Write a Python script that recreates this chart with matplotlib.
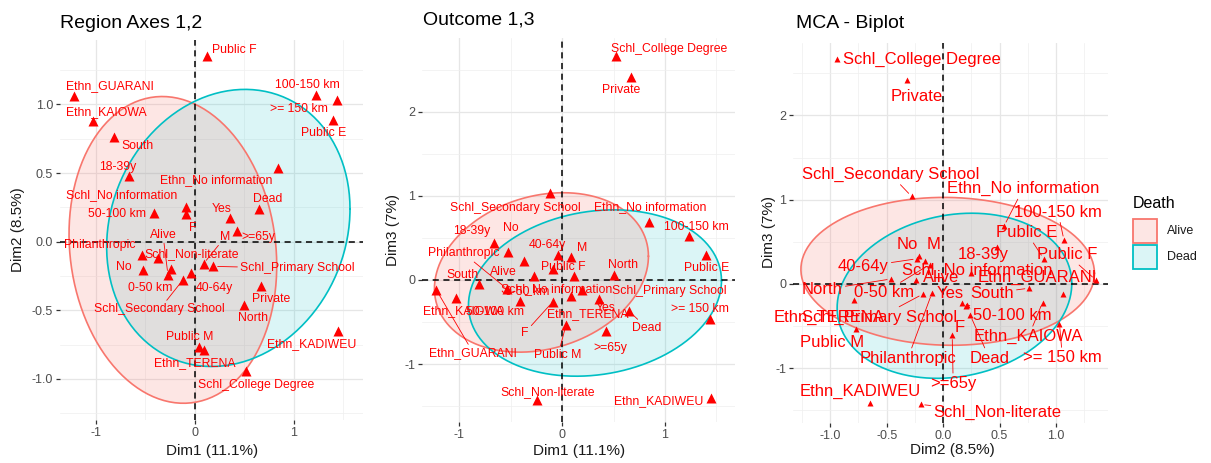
import numpy as np
import matplotlib.pyplot as plt
from matplotlib.colors import to_rgba
from matplotlib.patches import Rectangle

plt.rcParams['font.family'] = ['Liberation Sans', 'DejaVu Sans']
plt.rcParams['axes.unicode_minus'] = False

W, H = 1211, 463
RED = "#FF0000"

# MCA category coordinates
categories = ["Ethn_GUARANI", "Ethn_KAIOWA", "Ethn_KADIWEU", "Ethn_TERENA", "Ethn_No information",
              "Schl_College Degree", "Schl_Secondary School", "Schl_Primary School",
              "Schl_Non-literate", "Schl_No information",
              "Public F", "Public E", "Public M", "Private", "Philanthropic",
              "100-150 km", ">= 150 km", "50-100 km", "0-50 km",
              "South", "North", "18-39y", "40-64y", ">=65y",
              "Alive", "Dead", "Yes", "No", "M", "F"]
dim1 = [-1.22, -1.03, 1.45, 0.09, 0.84,
        0.52, -0.12, 0.19, -0.24, -0.09,
        0.12, 1.40, 0.04, 0.67, -0.53,
        1.23, 1.44, -0.41, -0.37,
        -0.81, 0.50, -0.66, -0.04, 0.43,
        -0.27, 0.65, 0.36, -0.52, 0.09, -0.09]
dim2 = [1.06, 0.88, -0.65, -0.79, 0.54,
        -0.94, -0.28, -0.18, -0.20, 0.25,
        1.35, 0.89, -0.77, -0.32, -0.10,
        1.07, 1.03, 0.21, -0.12,
        0.76, -0.46, 0.48, -0.23, 0.08,
        -0.24, 0.24, 0.17, -0.21, -0.16, 0.20]
dim3 = [-0.12, -0.22, -1.41, -0.19, 0.69,
        2.67, 1.04, -0.12, -1.43, 0.13,
        0.05, 0.30, -0.53, 2.42, -0.11,
        0.52, -0.47, -0.25, 0.23,
        -0.05, 0.06, 0.44, 0.30, -0.61,
        0.05, -0.37, -0.23, 0.33, 0.27, -0.26]

groups = ["Alive", "Dead"]
group_colors = ["#F8766D", "#00BFC4"]
group_alpha = [0.18, 0.14]

# concentration ellipses per Death group: centre x, centre y, var x, var y, cov xy
ell_12 = {"Alive": (-0.22, -0.06, 1.10, 1.25, -0.12), "Dead": (0.34, 0.10, 1.51, 1.02, 0.17)}
ell_13 = {"Alive": (-0.20, 0.09, 1.08, 0.90, 0.20), "Dead": (0.32, -0.155, 1.51, 0.98, 0.18)}
ell_23 = {"Alive": (0.04, 0.15, 1.69, 0.77, -0.03), "Dead": (0.10, -0.14, 1.08, 0.96, 0.15)}

# label placement (pixel offsets from the point) and which labels get a leader line
off_12 = {"Public F": (28, 6), "Ethn_GUARANI": (36, 10), "100-150 km": (-9, 10), ">= 150 km": (-38, -9),
          "Public E": (-10, -13), "Ethn_KAIOWA": (14, 9), "South": (23, -9), "18-39y": (-12, 9),
          "Ethn_No information": (-62, -12), "Schl_No information": (-64, 12), "Dead": (9, 10),
          "50-100 km": (-37, -1), "Yes": (-9, 9), "Alive": (-5, 40), "M": (22, 27), ">=65y": (21, -6),
          "F": (7, -14), "Philanthropic": (-42, 10), "Schl_Non-literate": (21, 15), "No": (-19, 3),
          "0-50 km": (-8, -30), "Schl_Secondary School": (-23, -29), "40-64y": (24, -15),
          "Schl_Primary School": (84, -2), "Private": (10, -13), "North": (9, -13),
          "Ethn_KADIWEU": (-27, -13), "Public M": (-9, 10), "Ethn_TERENA": (-9, -13),
          "Schl_College Degree": (10, -14)}
seg_12 = {"M", "Schl_Secondary School", "Schl_Primary School", "Alive"}

off_13 = {"Schl_College Degree": (54, 7), "Private": (-10, -13), "Schl_Secondary School": (-34, -15),
          "Ethn_No information": (2, 15), "100-150 km": (8, 9), "18-39y": (-22, 12), "No": (2, 24),
          "Philanthropic": (-44, 36), "40-64y": (-11, 10), "M": (11, 9), "Alive": (-31, 4),
          "Public F": (-11, 9), "North": (9, 10), "Public E": (0, -13), "South": (-16, 9),
          "Schl_No information": (4, -20), "0-50 km": (3, -31), "Schl_Primary School": (88, -1),
          "Ethn_KAIOWA": (7, -13), "50-100 km": (-25, -11), "Ethn_TERENA": (16, -18), "Yes": (7, -9),
          ">= 150 km": (-10, 10), "Dead": (18, -17), "F": (-28, -31), "Ethn_GUARANI": (37, -63),
          "Public M": (-8, -30), ">=65y": (4, -17), "Schl_Non-literate": (10, 8),
          "Ethn_KADIWEU": (-53, -3)}
seg_13 = {"Philanthropic", "Dead", "F", "Ethn_GUARANI", "Public M"}

off_23 = {"Schl_College Degree": (85, 0), "Private": (10, -16), "Schl_Secondary School": (-21, 22),
          "Ethn_No information": (19, 37), "100-150 km": (-6, 28), "Public E": (-17, 26),
          "Public F": (-28, 25), "18-39y": (-14, -8), "No": (-12, 12), "M": (8, 17),
          "40-64y": (-54, -8), "Schl_No information": (6, 3), "Alive": (25, 2),
          "Ethn_GUARANI": (-26, 17), "North": (-69, -11), "0-50 km": (-46, -28), "Yes": (-12, 10),
          "South": (-37, -5), "Ethn_TERENA": (-25, -17), "Schl_Primary School": (-43, -23),
          "50-100 km": (45, -10), "F": (-6, -22), "Public M": (-24, -14), "Ethn_KAIOWA": (-14, -34),
          "Philanthropic": (-24, -65), "Dead": (19, -43), ">= 150 km": (3, -34), ">=65y": (1, -48),
          "Ethn_KADIWEU": (-10, 11), "Schl_Non-literate": (77, -8)}
seg_23 = {"Schl_Secondary School", "Ethn_No information", "100-150 km", "Public E", "Public F",
          "40-64y", "North", "0-50 km", "South", "Schl_Primary School", "50-100 km", "Ethn_KAIOWA",
          "Philanthropic", "Dead", ">= 150 km", ">=65y", "Schl_Non-literate"}


def ellipse_xy(cx, cy, sxx, syy, sxy, n=240):
    t = np.linspace(0, 2 * np.pi, n)
    L = np.linalg.cholesky(np.array([[sxx, sxy], [sxy, syy]]))
    pts = L @ np.vstack([np.cos(t), np.sin(t)])
    return cx + pts[0], cy + pts[1]


def px_fig(x, y):
    return x / W, 1 - y / H


fig = plt.figure(figsize=(W / 100, H / 100), dpi=100)


def draw_panel(box, xs, ys, ells, offsets, segs, lab_fs, ms, xlim, ylim,
               xmaj, xmin, ymaj, ymin, xfmt, yfmt, title, title_xy, xlab, xlab_xy, ylab, ylab_xy):
    l, t, r, b = box
    ax = fig.add_axes([l / W, 1 - b / H, (r - l) / W, (b - t) / H])
    ax.set_xlim(*xlim)
    ax.set_ylim(*ylim)
    ax.set_xticks(xmaj)
    ax.set_xticks(xmin, minor=True)
    ax.set_yticks(ymaj)
    ax.set_yticks(ymin, minor=True)
    ax.set_xticklabels([xfmt.format(v) for v in xmaj])
    ax.set_yticklabels([yfmt.format(v) for v in ymaj])
    ax.grid(which='major', color='#E6E6E6', lw=0.9, zorder=0)
    ax.grid(which='minor', color='#EFEFEF', lw=0.5, zorder=0)
    ax.set_axisbelow(True)
    for s in ax.spines.values():
        s.set_visible(False)
    ax.tick_params(which='major', length=3, width=0.9, color='#333333',
                   labelsize=9, labelcolor='#4D4D4D', pad=2)
    ax.tick_params(which='minor', length=0)

    # Dead fill underneath so the overlap blends to grey
    for g, c, a, z in zip(groups, group_colors, group_alpha, (1.2, 1.1)):
        ex, ey = ellipse_xy(*ells[g])
        ax.fill(ex, ey, color=to_rgba(c, a), lw=0, zorder=z)
        ax.plot(ex, ey, color=c, lw=1.2, zorder=2)

    ax.axhline(0, color='black', ls=(0, (4, 3)), lw=1.1, zorder=3)
    ax.axvline(0, color='black', ls=(0, (4, 3)), lw=1.1, zorder=3)

    ax.plot(xs, ys, ls='none', marker='^', ms=ms, color=RED, mec='none', zorder=4)
    for name, x, y in zip(categories, xs, ys):
        dx, dy = offsets[name]
        props = None
        if name in segs:
            props = dict(arrowstyle='-', color=RED, lw=0.6, shrinkA=0, shrinkB=3)
        ax.annotate(name, xy=(x, y), xytext=(dx, dy), textcoords='offset pixels',
                    ha='center', va='center', fontsize=lab_fs, color=RED,
                    arrowprops=props, zorder=5)

    fig.text(*px_fig(*title_xy), title, fontsize=14, color='black', ha='left', va='center')
    fig.text(*px_fig(*xlab_xy), xlab, fontsize=11, color='#1A1A1A', ha='center', va='center')
    fig.text(*px_fig(*ylab_xy), ylab, fontsize=11, color='#1A1A1A', ha='center', va='center',
             rotation=90)
    return ax


draw_panel((60, 40, 363, 420), dim1, dim2, ell_12, off_12, seg_12, 8.8, 6.5,
           (-1.36, 1.70), (-1.30, 1.47),
           [-1, 0, 1], [-0.5, 0.5, 1.5],
           [-1.0, -0.5, 0.0, 0.5, 1.0], [-1.25, -0.75, -0.25, 0.25, 0.75, 1.25],
           "{:g}", "{:.1f}",
           "Region Axes 1,2", (60, 23), "Dim1 (11.1%)", (212, 451), "Dim2 (8.5%)", (18, 230))

draw_panel((422, 38, 735, 422), dim1, dim3, ell_13, off_13, seg_13, 8.8, 6.5,
           (-1.36, 1.68), (-1.69, 2.88),
           [-1, 0, 1], [-0.5, 0.5, 1.5],
           [-1, 0, 1, 2], [-1.5, -0.5, 0.5, 1.5, 2.5],
           "{:g}", "{:g}",
           "Outcome 1,3", (423, 20), "Dim1 (11.1%)", (579, 451), "Dim3 (7%)", (393, 230))

draw_panel((793, 43, 1108, 423), dim2, dim3, ell_23, off_23, seg_23, 12, 4.5,
           (-1.33, 1.46), (-1.65, 2.86),
           [-1.0, -0.5, 0.0, 0.5, 1.0], [-1.25, -0.75, -0.25, 0.25, 0.75, 1.25],
           [-1, 0, 1, 2], [-1.5, -0.5, 0.5, 1.5, 2.5],
           "{:.1f}", "{:g}",
           "MCA - Biplot", (796, 24), "Dim2 (8.5%)", (952, 450), "Dim3 (7%)", (769, 232))

# legend for the Death groups
fig.text(*px_fig(1133, 204), "Death", fontsize=11.5, color='black', ha='left', va='center')
for i, (g, c, a) in enumerate(zip(groups, group_colors, group_alpha)):
    y0 = 219 + i * 25.5
    fig.add_artist(Rectangle(px_fig(1133, y0 + 24), 24 / W, 24 / H, transform=fig.transFigure,
                             facecolor=to_rgba(c, a), edgecolor=c, lw=1.3))
    fig.text(*px_fig(1167, y0 + 12.5), g, fontsize=9, color='#1A1A1A', ha='left', va='center')

fig.savefig("out.png", dpi=100)
